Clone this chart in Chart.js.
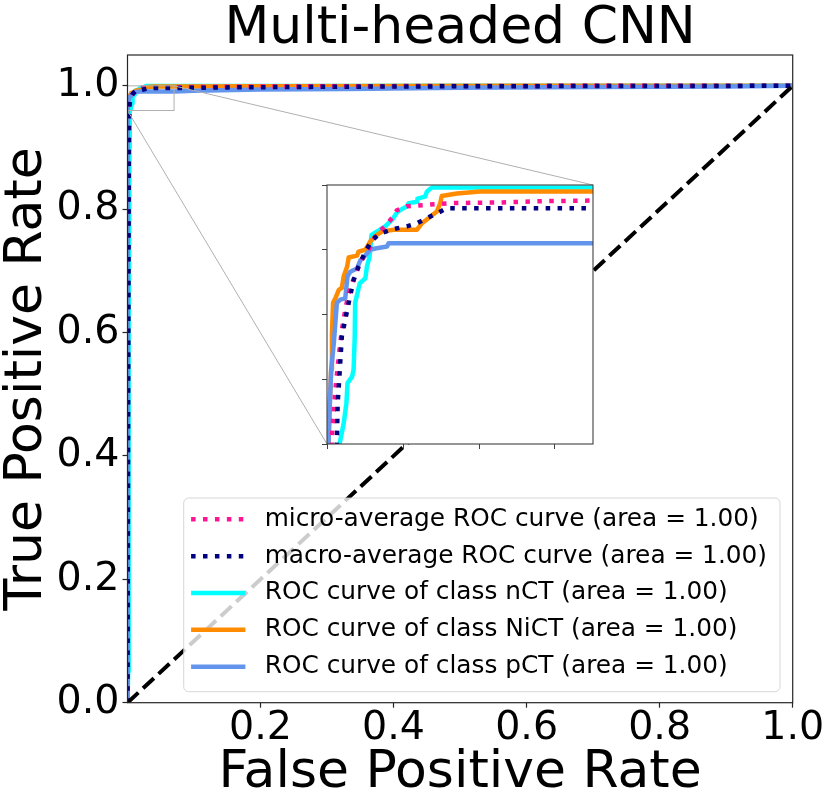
<!DOCTYPE html>
<html><head><meta charset="utf-8">
<script src="https://cdn.jsdelivr.net/npm/chart.js@4.4.1/dist/chart.umd.min.js"></script>
<style>
html,body{margin:0;padding:0;background:#fff;}
#wrap{position:relative;width:830px;height:807px;overflow:hidden;}
#main{position:absolute;left:0;top:0;}
#inset{position:absolute;}
</style></head><body>
<div id="wrap"><canvas id="main" width="830" height="807"></canvas><canvas id="inset" width="10" height="10"></canvas></div>
<script>
// ---------- data ----------
const chartTitle = 'Multi-headed CNN';
const xAxisTitle = 'False Positive Rate';
const yAxisTitle = 'True Positive Rate';
const seriesLabels = [
  'micro-average ROC curve (area = 1.00)',
  'macro-average ROC curve (area = 1.00)',
  'ROC curve of class nCT (area = 1.00)',
  'ROC curve of class NiCT (area = 1.00)',
  'ROC curve of class pCT (area = 1.00)'
];
const microFpr = [0, 0.0005, 0.001, 0.0013, 0.0022, 0.0031, 0.0039, 0.0048, 0.0057, 0.0066, 0.0079, 0.0096, 0.0114, 0.0131, 0.0153, 0.0171, 0.0184, 0.0210, 0.0254, 0.0324, 0.0456, 0.0569, 0.0700, 0.15, 0.30, 0.50, 0.70, 1.0];
const microTpr = [0, 0.50, 0.93, 0.9612, 0.9684, 0.9735, 0.9776, 0.9807, 0.9833, 0.9848, 0.9869, 0.9889, 0.9905, 0.9925, 0.9936, 0.9949, 0.9961, 0.9967, 0.9969, 0.9972, 0.9973, 0.9975, 0.9976, 0.9985, 0.9993, 0.9998, 1.0, 1.0];
const macroFpr = [0, 0.001, 0.002, 0.0026, 0.0028, 0.0031, 0.0039, 0.0048, 0.0057, 0.0070, 0.0083, 0.0101, 0.0118, 0.0140, 0.0175, 0.0210, 0.0237, 0.0263, 0.0289, 0.0315, 0.0700, 0.15, 0.30, 0.50, 0.75, 1.0];
const macroTpr = [0, 0.50, 0.90, 0.9600, 0.9663, 0.9689, 0.9766, 0.9792, 0.9818, 0.9853, 0.9874, 0.9897, 0.9915, 0.9925, 0.9932, 0.9936, 0.9941, 0.9949, 0.9956, 0.9964, 0.9964, 0.9975, 0.9985, 0.9993, 0.9998, 1.0];
const nctFpr = [0, 0.001, 0.0015, 0.002, 0.003, 0.0033, 0.0044, 0.0051, 0.0054, 0.0066, 0.0070, 0.0073, 0.0074, 0.0079, 0.0086, 0.0101, 0.0105, 0.0112, 0.0117, 0.0131, 0.0153, 0.0171, 0.0186, 0.0210, 0.0215, 0.0237, 0.0238, 0.0258, 0.0263, 0.0276, 0.0700, 0.15, 0.30, 0.50, 1.0];
const nctTpr = [0, 0.05, 0.30, 0.60, 0.90, 0.9600, 0.9632, 0.9663, 0.9694, 0.9704, 0.9715, 0.9766, 0.9818, 0.9830, 0.9848, 0.9856, 0.9874, 0.9889, 0.9923, 0.9928, 0.9936, 0.9946, 0.9959, 0.9967, 0.9972, 0.9974, 0.9979, 0.9982, 0.9990, 0.9996, 0.9996, 0.9997, 0.9998, 1.0, 1.0];
const nictFpr = [0, 0.0002, 0.0004, 0.0007, 0.0011, 0.0013, 0.0016, 0.0022, 0.0031, 0.0039, 0.0044, 0.0053, 0.0057, 0.0079, 0.0083, 0.0101, 0.0114, 0.0131, 0.0145, 0.0175, 0.0237, 0.0250, 0.0272, 0.0289, 0.0298, 0.0302, 0.0342, 0.0403, 0.0700, 0.20, 0.40, 0.60, 1.0];
const nictTpr = [0, 0.50, 0.9600, 0.9663, 0.9715, 0.9771, 0.9818, 0.9825, 0.9838, 0.9841, 0.9859, 0.9874, 0.9888, 0.9891, 0.9897, 0.9900, 0.9913, 0.9923, 0.9928, 0.9931, 0.9931, 0.9941, 0.9951, 0.9959, 0.9972, 0.9983, 0.9987, 0.9990, 0.9990, 0.9995, 0.9998, 1.0, 1.0];
const pctFpr = [0, 0, 0.0002, 0.0004, 0.0007, 0.0011, 0.0018, 0.0026, 0.0035, 0.0048, 0.0054, 0.0061, 0.0079, 0.0088, 0.0096, 0.0114, 0.0127, 0.0158, 0.0162, 0.0700, 0.10, 0.20, 0.33, 0.50, 0.70, 0.90, 1.0];
const pctTpr = [0, 0.50, 0.90, 0.9600, 0.9653, 0.9715, 0.9756, 0.9818, 0.9823, 0.9825, 0.9859, 0.9866, 0.9871, 0.9884, 0.9888, 0.9900, 0.9902, 0.9905, 0.9910, 0.9910, 0.9920, 0.9940, 0.9950, 0.9970, 0.9980, 0.9990, 1.0];
const chanceFpr = [0, 1];
const chanceTpr = [0, 1];
const xTickValues = [0.2, 0.4, 0.6, 0.8, 1.0];
const yTickValues = [0.0, 0.2, 0.4, 0.6, 0.8, 1.0];
const insetXTickValues = [0, 0.02, 0.04, 0.06];
const insetYTickValues = [0.96, 0.97, 0.98, 0.99, 1.0];
const insetXRange = [0, 0.07];
const insetYRange = [0.96, 1.0];

// ---------- styles / layout ----------
const FONT = '"DejaVu Sans", "Liberation Sans", sans-serif';
Chart.defaults.font.family = FONT;
Chart.defaults.color = '#000';
const seriesColors = ['#FF1493', '#000080', '#00FFFF', '#FF8C00', '#6495ED'];
const LW = 4.5;
const seriesDash = [[LW, LW * 1.65], [LW, LW * 1.65], [], [], []];
const drawOrder = [3, 2, 6, 5, 4];
const PLOT = {left: 127.5, right: 792.7, bottom: 702.7, width: 830, height: 807};
const INSET = {x0: 0.30, x1: 0.70, y0: 0.40, y1: 0.80}; // axes fractions
const AXIS_COLOR = '#262626';

function pts(xs, ys) { return xs.map((x, i) => ({x: x, y: ys[i]})); }
const curveData = [pts(microFpr, microTpr), pts(macroFpr, macroTpr), pts(nctFpr, nctTpr), pts(nictFpr, nictTpr), pts(pctFpr, pctTpr)];

function curveDatasets() {
  return curveData.map((d, i) => ({
    label: seriesLabels[i], data: d, showLine: true, fill: false,
    borderColor: seriesColors[i], backgroundColor: seriesColors[i],
    borderWidth: LW, borderDash: seriesDash[i], borderCapStyle: 'butt', borderJoinStyle: 'round',
    pointRadius: 0, pointHoverRadius: 0, tension: 0, order: drawOrder[i], inLegend: true
  }));
}

function insetRect(chart) {
  const ca = chart.chartArea;
  return {
    x0: Math.round(ca.left + INSET.x0 * (ca.right - ca.left)),
    x1: Math.round(ca.left + INSET.x1 * (ca.right - ca.left)),
    y0: Math.round(ca.bottom - INSET.y1 * (ca.bottom - ca.top)),
    y1: Math.round(ca.bottom - INSET.y0 * (ca.bottom - ca.top))
  };
}

const framePlugin = {
  id: 'frame',
  afterDatasetsDraw(chart) {
    const ctx = chart.ctx, ca = chart.chartArea, xs = chart.scales.x, ys = chart.scales.y;
    ctx.save();
    // zoom rectangle + connectors
    const rx0 = xs.getPixelForValue(insetXRange[0]), rx1 = xs.getPixelForValue(insetXRange[1]);
    const ry0 = ys.getPixelForValue(insetYRange[1]), ry1 = ys.getPixelForValue(insetYRange[0]);
    const ir = insetRect(chart);
    ctx.strokeStyle = '#b0b0b0'; ctx.lineWidth = 1; ctx.setLineDash([]);
    ctx.strokeRect(rx0, ry0, rx1 - rx0, ry1 - ry0);
    ctx.beginPath();
    ctx.moveTo(rx1, ry0); ctx.lineTo(ir.x1, ir.y0);
    ctx.moveTo(rx0, ry1); ctx.lineTo(ir.x0, ir.y1);
    ctx.stroke();
    // spines
    ctx.strokeStyle = AXIS_COLOR; ctx.lineWidth = 1.2;
    ctx.strokeRect(ca.left, ca.top, ca.right - ca.left, ca.bottom - ca.top);
    ctx.restore();
  },
  afterDraw(chart) {
    const ctx = chart.ctx, ca = chart.chartArea;
    const ds = chart.data.datasets.filter(d => d.inLegend);
    const fs = 24.8;
    ctx.save();
    ctx.font = fs + 'px ' + FONT;
    const tw = Math.max(...ds.map(d => ctx.measureText(d.label).width));
    const right = ca.right - 12.7, bottom = ca.bottom - 11;
    const rowH = 36.85;
    const h = 21.3 + rowH * (ds.length - 1) + 25;
    const top = bottom - h;
    const left = right - (81 + tw + 13);
    ctx.beginPath();
    ctx.roundRect(left, top, right - left, h, 5);
    ctx.fillStyle = 'rgba(255,255,255,0.8)';
    ctx.fill();
    ctx.strokeStyle = 'rgba(204,204,204,0.8)';
    ctx.lineWidth = 1;
    ctx.stroke();
    ds.forEach((d, i) => {
      const y = top + 21.3 + i * rowH;
      ctx.beginPath();
      ctx.strokeStyle = d.borderColor; ctx.lineWidth = d.borderWidth;
      ctx.setLineDash(d.borderDash || []); ctx.lineCap = 'butt';
      ctx.moveTo(left + 7.4, y); ctx.lineTo(left + 61.7, y);
      ctx.stroke();
      ctx.setLineDash([]);
      ctx.fillStyle = '#000'; ctx.textBaseline = 'middle'; ctx.textAlign = 'left';
      ctx.fillText(d.label, left + 81, y);
    });
    ctx.restore();
  }
};

const tickFont = {family: FONT, size: 39.6, lineHeight: 1};
const gridOpts = {display: true, drawOnChartArea: false, drawTicks: true, tickLength: 5, tickColor: AXIS_COLOR, tickWidth: 1.2};

const datasets = curveDatasets();
datasets.push({
  label: 'chance', data: pts(chanceFpr, chanceTpr), showLine: true, fill: false,
  borderColor: '#000', borderWidth: 4, borderDash: [14.8, 6.4], borderCapStyle: 'butt',
  pointRadius: 0, pointHoverRadius: 0, order: 1, inLegend: false
});

const main = new Chart(document.getElementById('main'), {
  type: 'scatter',
  data: {datasets: datasets},
  options: {
    responsive: false, animation: false, events: [],
    layout: {padding: {left: 0, top: 0, bottom: 0, right: PLOT.width - PLOT.right}},
    plugins: {
      legend: {display: false}, tooltip: {enabled: false},
      title: {display: true, text: chartTitle, color: '#000', fullSize: false,
        font: {family: FONT, size: 52, weight: 'normal', lineHeight: 1}, padding: {top: 3, bottom: 0}}
    },
    scales: {
      x: {
        type: 'linear', min: 0, max: 1,
        afterBuildTicks: s => { s.ticks = xTickValues.map(v => ({value: v})); },
        afterFit: s => { s.height = PLOT.height - PLOT.bottom; },
        ticks: {callback: v => Number(v).toFixed(1), font: tickFont, color: '#000', padding: 1, autoSkip: false, maxRotation: 0},
        grid: gridOpts, border: {display: false},
        title: {display: true, text: xAxisTitle, color: '#000', font: {family: FONT, size: 52, lineHeight: 1}, padding: {top: 0, bottom: 8}}
      },
      y: {
        type: 'linear', min: 0, max: 1.05,
        afterBuildTicks: s => { s.ticks = yTickValues.map(v => ({value: v})); },
        afterFit: s => { s.width = PLOT.left; },
        ticks: {callback: v => Number(v).toFixed(1), font: tickFont, color: '#000', padding: 3, autoSkip: false},
        grid: gridOpts, border: {display: false},
        title: {display: true, text: yAxisTitle, color: '#000', font: {family: FONT, size: 52, lineHeight: 1}, padding: {top: 1, bottom: 0}}
      }
    }
  },
  plugins: [framePlugin]
});

// ---------- inset (zoomed) axes ----------
const M = 10;
const ir = insetRect(main);
const insetCanvas = document.getElementById('inset');
insetCanvas.width = ir.x1 - ir.x0 + 2 * M;
insetCanvas.height = ir.y1 - ir.y0 + 2 * M;
insetCanvas.style.left = (ir.x0 - M) + 'px';
insetCanvas.style.top = (ir.y0 - M) + 'px';

const insetFrame = {
  id: 'insetFrame',
  beforeDraw(chart) {
    const ctx = chart.ctx, ca = chart.chartArea;
    ctx.save(); ctx.fillStyle = '#fff';
    ctx.fillRect(ca.left, ca.top, ca.right - ca.left, ca.bottom - ca.top);
    ctx.restore();
  },
  afterDatasetsDraw(chart) {
    const ctx = chart.ctx, ca = chart.chartArea;
    ctx.save(); ctx.strokeStyle = '#404040'; ctx.lineWidth = 1.1;
    ctx.strokeRect(ca.left, ca.top, ca.right - ca.left, ca.bottom - ca.top);
    ctx.restore();
  }
};
const insetGrid = {display: true, drawOnChartArea: false, drawTicks: true, tickLength: 5, tickColor: '#404040', tickWidth: 1};
new Chart(insetCanvas, {
  type: 'scatter',
  data: {datasets: curveDatasets()},
  options: {
    responsive: false, animation: false, events: [],
    layout: {padding: {left: 0, top: M, right: M, bottom: 0}},
    plugins: {legend: {display: false}, tooltip: {enabled: false}, title: {display: false}},
    scales: {
      x: {type: 'linear', min: insetXRange[0], max: insetXRange[1],
        afterBuildTicks: s => { s.ticks = insetXTickValues.map(v => ({value: v})); },
        afterFit: s => { s.height = M; },
        ticks: {display: false}, grid: insetGrid, border: {display: false}},
      y: {type: 'linear', min: insetYRange[0], max: insetYRange[1],
        afterBuildTicks: s => { s.ticks = insetYTickValues.map(v => ({value: v})); },
        afterFit: s => { s.width = M; },
        ticks: {display: false}, grid: insetGrid, border: {display: false}}
    }
  },
  plugins: [insetFrame]
});
</script>
</body></html>
